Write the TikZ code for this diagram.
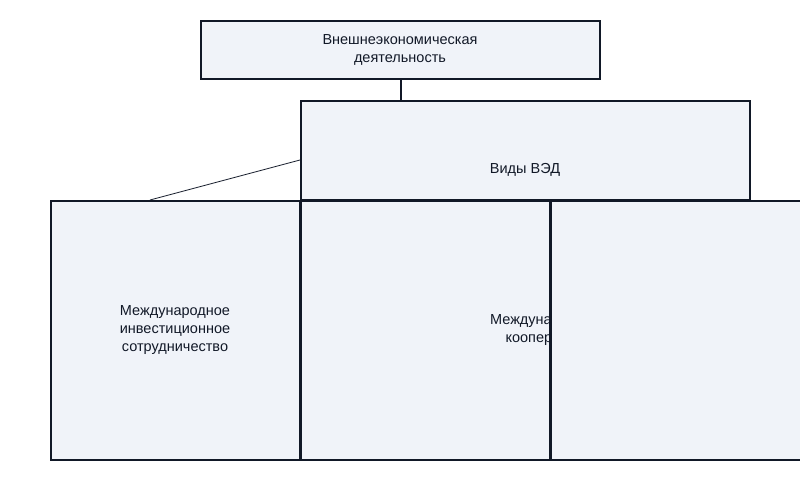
\documentclass[tikz,border=0pt]{standalone}
\usepackage{fontspec}
\setmainfont{Liberation Sans}
\definecolor{bfill}{RGB}{240,243,249}
\definecolor{bline}{RGB}{17,24,39}
\begin{document}
\begin{tikzpicture}[x=1pt,y=-1pt,
  box/.style={draw=bline,line width=2pt,fill=bfill},
  lbl/.style={text=bline,align=center,font=\fontsize{14.5}{18}\selectfont}]
\useasboundingbox (0,0) rectangle (800,500);
\fill[white] (0,0) rectangle (800,500);
\draw[box] (201,21) rectangle (600,79);
\node[lbl] (top) at (400,50) {Внешнеэкономическая\\деятельность};
\draw[box] (301,101) rectangle (750,200);
\node[lbl] (vid) at (525,170) {Виды ВЭД};
\coordinate (a) at (401,80); \coordinate (b) at (401,100);
\draw[line width=2pt,bline] (a) -- (b);
\coordinate (c) at (300,160); \coordinate (d) at (150,200);
\draw[line width=0.8pt,bline] (c) -- (d);
\draw[box] (51,201) rectangle (300,460);
\node[lbl] (inv) at (175,330) {Международное\\инвестиционное\\сотрудничество};
\draw[box] (301,201) rectangle (550,460);
\node[lbl] (koop) at (545,330) {Международная\\кооперация};
\draw[box] (551,201) rectangle (801,460);
\end{tikzpicture}
\end{document}
